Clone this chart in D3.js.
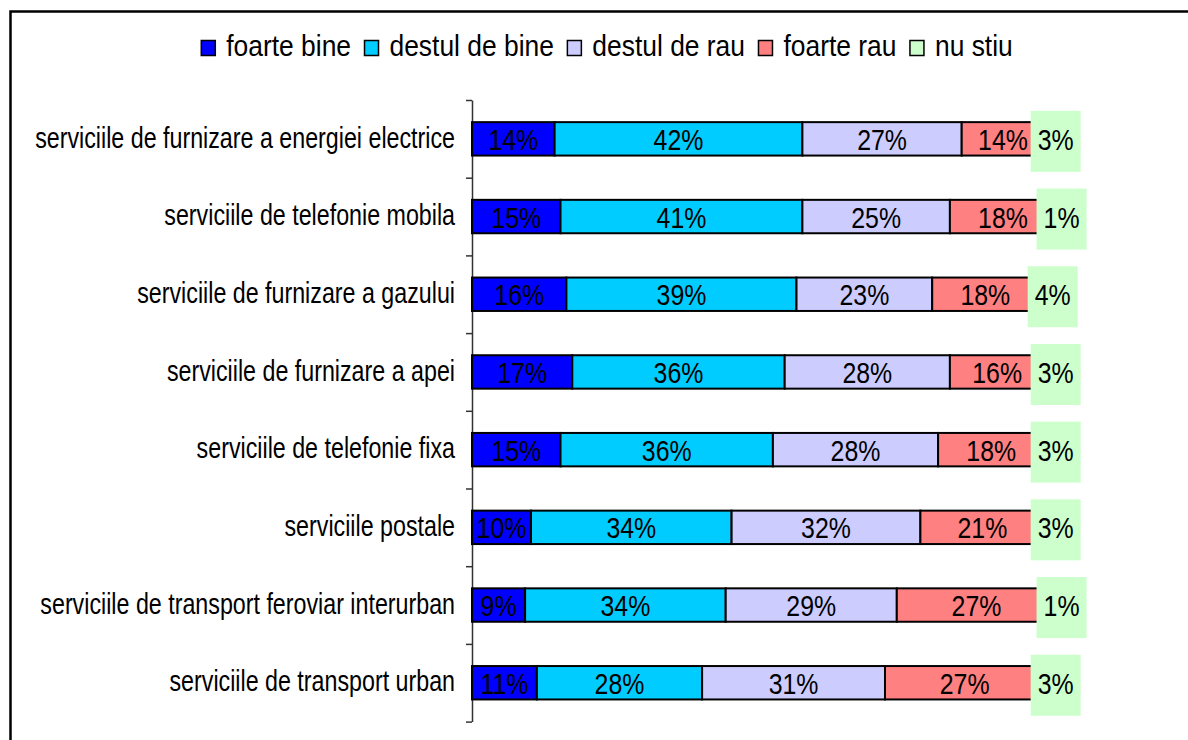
<!DOCTYPE html>
<html lang="ro">
<head>
  <meta charset="UTF-8">
  <title>Evaluarea serviciilor</title>
  <style>
    body {
      margin: 0;
      background-color: #fff;
    }
    svg {
      display: block;
      font-family: "Liberation Sans", Arial, sans-serif;
    }
    .axis path, .axis line {
      stroke: #333;
      stroke-width: 1.5;
    }
  </style>
  <script src="https://d3js.org/d3.v7.min.js"></script>
</head>
<body>
  <svg width="1188" height="740"></svg>

  <script>
    // data
    const categories = [
      "serviciile de furnizare a energiei electrice",
      "serviciile de telefonie mobila",
      "serviciile de furnizare a gazului",
      "serviciile de furnizare a apei",
      "serviciile de telefonie fixa",
      "serviciile postale",
      "serviciile de transport feroviar interurban",
      "serviciile de transport urban"
    ];
    const seriesNames = ["foarte bine", "destul de bine", "destul de rau", "foarte rau", "nu stiu"];
    const foarteBine   = [14, 15, 16, 17, 15, 10, 9, 11];
    const destulDeBine = [42, 41, 39, 36, 36, 34, 34, 28];
    const destulDeRau  = [27, 25, 23, 28, 28, 32, 29, 31];
    const foarteRau    = [14, 18, 18, 16, 18, 21, 27, 27];
    const nuStiu       = [3, 1, 4, 3, 3, 3, 1, 3];
    const colors = ["#0000ff", "#00ccff", "#ccccff", "#ff8080", "#ccffcc"];

    const seriesValues = [foarteBine, destulDeBine, destulDeRau, foarteRau, nuStiu];
    const table = categories.map((c, i) => {
      const row = { category: c };
      seriesNames.forEach((s, j) => row[s] = seriesValues[j][i]);
      return row;
    });

    const svg = d3.select("svg");

    // outer frame
    svg.append("rect")
      .attr("x", 10.5).attr("y", 11.5)
      .attr("width", 1200).attr("height", 760)
      .attr("fill", "none")
      .attr("stroke", "#000")
      .attr("stroke-width", 2.5);

    const plotTop = 100, plotBottom = 721.6;
    const x = d3.scaleLinear().domain([0, 100]).range([472, 1062]);
    const y = d3.scaleBand()
      .domain(categories)
      .range([plotTop, plotBottom])
      .paddingInner(0.57)
      .paddingOuter(0.285);

    // category axis with ticks between the bars
    const tickScale = d3.scaleLinear().domain([0, categories.length]).range([plotTop, plotBottom]);
    svg.append("g")
      .attr("class", "axis")
      .attr("transform", `translate(${x(0)},0)`)
      .call(d3.axisLeft(tickScale).ticks(categories.length).tickSize(6).tickSizeOuter(0).tickFormat(""));

    // category labels (text in the source is narrow, so squeeze it)
    svg.append("g").selectAll("text")
      .data(categories)
      .join("text")
      .attr("transform", d => `translate(455,${y(d) + y.bandwidth() / 2 + 8.7}) scale(0.775,1)`)
      .attr("text-anchor", "end")
      .attr("font-size", 30)
      .attr("fill", "#000")
      .text(d => d);

    const stacked = d3.stack().keys(seriesNames)(table);

    const layers = svg.append("g").selectAll("g")
      .data(stacked)
      .join("g")
      .attr("fill", (d, i) => colors[i]);

    layers.selectAll("rect")
      .data(d => d)
      .join("rect")
      .attr("x", d => x(d[0]))
      .attr("y", d => y(d.data.category))
      .attr("width", d => x(d[1]) - x(d[0]))
      .attr("height", y.bandwidth())
      .attr("stroke", "#000")
      .attr("stroke-width", 2);

    // labels for the first four series, centred in the segments
    const labelLayers = svg.append("g").selectAll("g")
      .data(stacked)
      .join("g");

    labelLayers.each(function(layer, li) {
      const g = d3.select(this);
      if (li === seriesNames.length - 1) {
        // "nu stiu" labels sit in a filled box drawn over the bar end
        const cells = g.selectAll("g")
          .data(layer)
          .join("g")
          .attr("transform", d => `translate(${(x(d[0]) + x(d[1])) / 2 + 2.5},${y(d.data.category) + y.bandwidth() / 2})`);
        cells.append("rect")
          .attr("x", -25).attr("y", -28)
          .attr("width", 50).attr("height", 61)
          .attr("fill", colors[li]);
        cells.append("text")
          .attr("transform", "translate(0,11) scale(0.83,1)")
          .attr("text-anchor", "middle")
          .attr("font-size", 30)
          .attr("fill", "#000")
          .text(d => `${d[1] - d[0]}%`);
      } else {
        g.selectAll("text")
          .data(layer)
          .join("text")
          .attr("transform", d => `translate(${(x(d[0]) + x(d[1])) / 2},${y(d.data.category) + y.bandwidth() / 2 + 11}) scale(0.83,1)`)
          .attr("text-anchor", "middle")
          .attr("font-size", 30)
          .attr("fill", "#000")
          .text(d => `${d[1] - d[0]}%`);
      }
    });

    // legend, laid out left to right and centred
    const legend = svg.append("g");
    const items = legend.selectAll("g")
      .data(seriesNames)
      .join("g");
    items.append("rect")
      .attr("x", 0).attr("y", 40.5)
      .attr("width", 14).attr("height", 15)
      .attr("fill", (d, i) => colors[i])
      .attr("stroke", "#000")
      .attr("stroke-width", 1.5);
    items.append("text")
      .attr("transform", "translate(25,56) scale(0.88,1)")
      .attr("font-size", 30)
      .attr("fill", "#000")
      .text(d => d);

    let cursor = 0;
    items.each(function() {
      const w = d3.select(this).select("text").node().getComputedTextLength() * 0.88;
      d3.select(this).attr("transform", `translate(${cursor},0)`);
      cursor += 25 + w + 13.5;
    });
    const legendWidth = cursor - 13.5;
    legend.attr("transform", `translate(${607 - legendWidth / 2},0)`);
  </script>
</body>
</html>
